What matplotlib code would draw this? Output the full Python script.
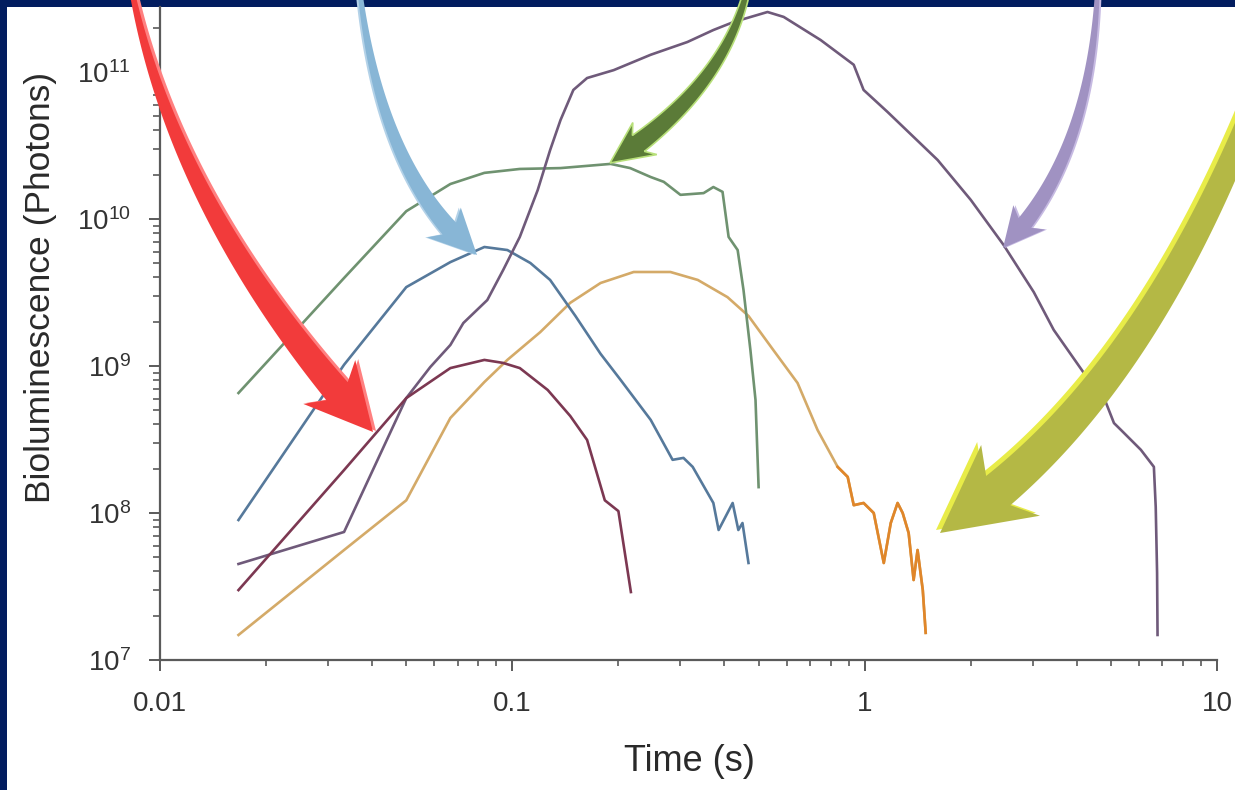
import numpy as np
import matplotlib
matplotlib.use('Agg')
import matplotlib.pyplot as plt
from matplotlib.patches import Polygon, Rectangle
from matplotlib.transforms import Affine2D

plt.rcParams['font.family'] = ['Liberation Sans', 'DejaVu Sans']
plt.rcParams['mathtext.default'] = 'regular'

# bioluminescence traces, time (s) vs photons per frame
green_t = [0.0167, 0.0333, 0.05, 0.0667, 0.0833, 0.105, 0.137, 0.190, 0.216, 0.247,
           0.269, 0.300, 0.349, 0.372, 0.395, 0.411, 0.436, 0.453, 0.474, 0.490, 0.500]
green_v = [6.55e8, 3.97e9, 1.13e10, 1.73e10, 2.06e10, 2.19e10, 2.22e10, 2.37e10, 2.22e10, 1.93e10,
           1.79e10, 1.46e10, 1.50e10, 1.65e10, 1.53e10, 7.55e9, 6.15e9, 3.29e9, 1.28e9, 5.87e8, 1.50e8]

blue_t = [0.0167, 0.0333, 0.05, 0.0667, 0.0833, 0.0968, 0.1125, 0.128, 0.151, 0.178, 0.203,
          0.247, 0.285, 0.306, 0.325, 0.372, 0.385, 0.422, 0.438, 0.450, 0.468]
blue_v = [8.96e7, 1.02e9, 3.44e9, 5.09e9, 6.45e9, 6.15e9, 5.02e9, 3.85e9, 2.19e9, 1.21e9, 8.03e8,
          4.30e8, 2.30e8, 2.37e8, 2.06e8, 1.17e8, 7.66e7, 1.17e8, 7.66e7, 8.55e7, 4.57e7]

red_t = [0.0167, 0.0333, 0.05, 0.0667, 0.0833, 0.094, 0.105, 0.126, 0.146, 0.163,
         0.183, 0.200, 0.217]
red_v = [2.99e7, 1.96e8, 6.05e8, 9.68e8, 1.10e9, 1.05e9, 9.68e8, 6.87e8, 4.57e8, 3.14e8,
         1.22e8, 1.03e8, 2.90e7]

orange_t = [0.0167, 0.0333, 0.05, 0.0667, 0.0833, 0.0968, 0.120, 0.146, 0.178, 0.221, 0.281,
            0.336, 0.408, 0.468, 0.551, 0.645, 0.735, 0.838, 0.895, 0.931, 0.993, 1.061,
            1.133, 1.186, 1.240, 1.282, 1.333, 1.377, 1.413, 1.462, 1.490]
orange_v = [1.48e7, 5.60e7, 1.22e8, 4.43e8, 7.78e8, 1.10e9, 1.70e9, 2.69e9, 3.67e9, 4.36e9, 4.36e9,
            3.85e9, 2.94e9, 2.19e9, 1.28e9, 7.66e8, 3.67e8, 2.06e8, 1.76e8, 1.13e8, 1.17e8, 1.00e8,
            4.57e7, 8.55e7, 1.17e8, 1.00e8, 7.31e7, 3.50e7, 5.60e7, 2.99e7, 1.53e7]

purple_t = [0.0167, 0.0333, 0.05, 0.0585, 0.0667, 0.0726, 0.0849, 0.0942, 0.105, 0.118, 0.128,
            0.137, 0.149, 0.163, 0.194, 0.247, 0.314, 0.372, 0.425, 0.530, 0.589, 0.750, 0.931,
            0.993, 1.161, 1.611, 2.00, 2.48, 3.02, 3.44, 4.19, 4.77, 5.10, 5.34, 5.70, 6.08,
            6.62, 6.70, 6.76, 6.78]
purple_v = [4.50e7, 7.43e7, 6.05e8, 9.84e8, 1.39e9, 1.96e9, 2.81e9, 4.50e9, 7.55e9, 1.57e10, 2.94e10,
            4.71e10, 7.55e10, 9.10e10, 1.03e11, 1.31e11, 1.60e11, 1.93e11, 2.19e11, 2.56e11, 2.37e11,
            1.65e11, 1.12e11, 7.55e10, 5.35e10, 2.52e10, 1.35e10, 6.65e9, 3.18e9, 1.76e9, 8.96e8,
            6.15e8, 4.09e8, 3.67e8, 3.14e8, 2.69e8, 2.06e8, 1.10e8, 3.91e7, 1.48e7]

W, H = 1235, 790
fig = plt.figure(figsize=(W / 100, H / 100), dpi=100, facecolor='#021d5f')
fig.add_artist(Rectangle((7 / W, 0), 1, 1 - 7 / H, transform=fig.transFigure,
                         facecolor='white', edgecolor='none', zorder=-10))

ax = fig.add_axes([160 / W, 130 / H, 1057 / W, 653 / H])
ax.set_facecolor('none')
ax.set_xscale('log')
ax.set_yscale('log')
ax.set_xlim(0.01, 10)
ax.set_ylim(1e7, 10 ** (7 + 653 / 147))

lw = 1.9
ax.plot(orange_t, orange_v, color='#d4aa68', lw=lw)
ax.plot(orange_t[17:], orange_v[17:], color='#e0862a', lw=lw)
ax.plot(green_t, green_v, color='#6f9270', lw=lw)
ax.plot(blue_t, blue_v, color='#56799b', lw=lw)
ax.plot(purple_t, purple_v, color='#6f5a7a', lw=lw)
ax.plot(red_t, red_v, color='#7c3852', lw=lw)

for s in ['top', 'right']:
    ax.spines[s].set_visible(False)
for s in ['left', 'bottom']:
    ax.spines[s].set_color('#5a5a5a')
    ax.spines[s].set_linewidth(1.6)

ax.set_xticks([0.01, 0.1, 1, 10])
ax.set_xticklabels(['0.01', '0.1', '1', '10'])
ax.tick_params(which='major', length=8, width=1.4, color='#5a5a5a', labelcolor='#333333')
ax.tick_params(which='minor', length=5, width=1.2, color='#5a5a5a')
ax.tick_params(axis='x', which='minor', length=4)
ax.tick_params(axis='x', labelsize=20, pad=14)
ax.tick_params(axis='y', labelsize=20, pad=13)

ax.set_xlabel('Time (s)', fontsize=26, color='#2a2a2a')
ax.set_ylabel('Bioluminescence (Photons)', fontsize=25.5, color='#2a2a2a')
ax.xaxis.set_label_coords(0.501, -0.128)
ax.yaxis.set_label_coords(-0.097, 0.57)

# curved annotation arrows, drawn in image pixel coordinates
T = Affine2D().scale(1 / W, -1 / H).translate(0, 1) + fig.transFigure


def arrow(p0, c, p1, w0, w1, hw, hl, sweep, fc, ec='none', elw=0, dx=0, dy=0, z=20):
    p0, c, p1 = np.array(p0, float), np.array(c, float), np.array(p1, float)
    t = np.linspace(0, 1, 400)[:, None]
    pts = (1 - t) ** 2 * p0 + 2 * t * (1 - t) * c + t ** 2 * p1
    d = np.r_[0, np.cumsum(np.hypot(*np.diff(pts, axis=0).T))]
    body = pts[d <= d[-1] - hl + sweep]
    tan = np.gradient(body, axis=0)
    tan /= np.hypot(tan[:, 0], tan[:, 1])[:, None]
    nrm = np.c_[-tan[:, 1], tan[:, 0]]
    w = np.linspace(w0, w1, len(body))[:, None] / 2
    left, right = body + nrm * w, body - nrm * w
    base, nb, tb = body[-1], nrm[-1], tan[-1]
    poly = np.vstack([left, base + nb * hw / 2 - tb * sweep, p1,
                      base - nb * hw / 2 - tb * sweep, right[::-1]])
    poly = poly + [dx, dy]
    fig.add_artist(Polygon(poly, closed=True, transform=T, facecolor=fc, edgecolor=ec,
                           linewidth=elw, clip_on=False, zorder=z))


arrow((125, -50), (160, 200), (373, 432), 3, 28, 68, 66, 12, '#ff8080', dx=3, dy=-1)
arrow((125, -50), (160, 200), (373, 432), 3, 28, 68, 66, 12, '#f23b3b')
arrow((356, -50), (372, 170), (477, 255), 3, 18, 45, 46, 8, '#b4d2e8', dx=-2)
arrow((356, -50), (372, 170), (477, 255), 3, 18, 45, 46, 8, '#88b6d6')
arrow((752, -40), (740, 80), (610, 163), 4, 20, 40, 42, 8, '#5b7b38', ec='#b8e07a', elw=1.2)
arrow((1098, -50), (1100, 150), (1003, 248), 3, 16, 40, 40, 7, '#c6bae2', dx=2)
arrow((1098, -50), (1100, 150), (1003, 248), 3, 16, 40, 40, 7, '#a092c2')
arrow((1275, 50), (1150, 400), (940, 533), 20, 38, 92, 88, 16, '#e8ec48', dx=-4, dy=-3)
arrow((1275, 50), (1150, 400), (940, 533), 20, 38, 92, 88, 16, '#b4b845')

fig.savefig('out.png', dpi=100, facecolor=fig.get_facecolor())
